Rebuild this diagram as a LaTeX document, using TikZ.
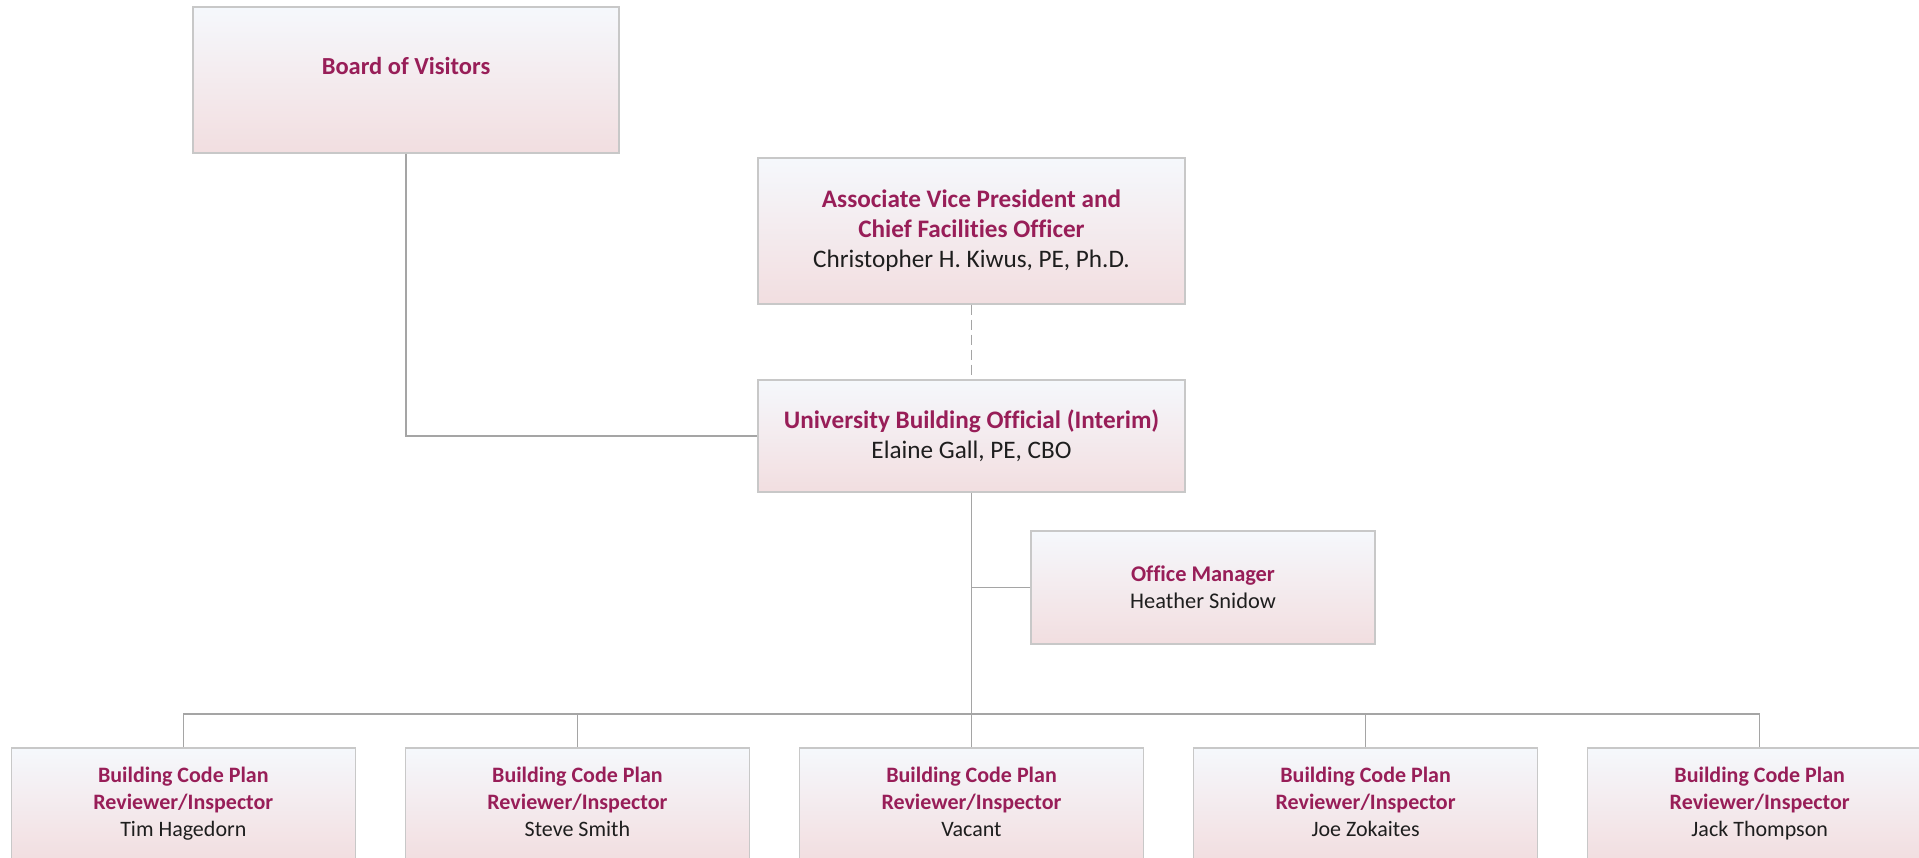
\documentclass[tikz,border=0pt]{standalone}
\usepackage{fontspec}
\setmainfont{Carlito}[Ligatures=NoCommon]
\usetikzlibrary{positioning}

\definecolor{titlec}{RGB}{152,30,88}
\definecolor{namec}{RGB}{30,30,30}
\definecolor{boxline}{RGB}{200,200,200}
\definecolor{linec}{RGB}{165,165,165}
\definecolor{topc}{RGB}{245,248,252}
\definecolor{botc}{RGB}{242,222,224}

\newcommand{\ttl}[1]{{\bfseries\color{titlec}#1}}
\newcommand{\insp}[1]{\ttl{Building Code Plan}\\\ttl{Reviewer/Inspector}\\#1\vphantom{gp}}

\tikzstyle{block} = [draw=boxline, line width=1.3pt, rectangle,
    top color=topc, bottom color=botc, align=center, inner sep=0pt,
    text=namec]
\tikzstyle{bigblock} = [block, minimum width=427pt, font=\fontsize{25.2}{30}\selectfont]
\tikzstyle{smallblock} = [block, minimum width=344pt, minimum height=112pt,
    font=\fontsize{22}{27}\selectfont]
\tikzstyle{link} = [draw=linec, line width=1.5pt]

\begin{document}
\begin{tikzpicture}[x=1pt, y=-1pt, node distance=48.8pt]
  \useasboundingbox (0,0) rectangle (1919,858);

  % top of the chart
  \node [block, minimum width=426pt, minimum height=146pt,
    font=\fontsize{24.5}{21}\selectfont] (board) at (406,80)
    {\ttl{Board of Visitors}\\ \strut};
  \node [bigblock, minimum height=146pt] (avp) at (971.5,231)
    {\ttl{Associate Vice President and}\\\ttl{Chief Facilities Officer}\\Christopher H. Kiwus, PE, Ph.D.};
  \node [bigblock, minimum height=112pt] (ubo) at (971.5,436)
    {\ttl{University Building Official (Interim)}\\Elaine Gall, PE, CBO};
  \node [smallblock, minimum height=113pt, font=\fontsize{22.4}{27}\selectfont] (om) at (1203,587.5)
    {\ttl{Office Manager}\\Heather Snidow};

  % inspectors
  \node [smallblock] (insp3) at (971.5,804) {\insp{Vacant}};
  \node [smallblock, left=of insp3] (insp2) {\insp{Steve Smith}};
  \node [smallblock, left=of insp2] (insp1) {\insp{Tim Hagedorn}};
  \node [smallblock, right=of insp3] (insp4) {\insp{Joe Zokaites}};
  \node [smallblock, right=of insp4] (insp5) {\insp{Jack Thompson}};

  \coordinate (bus) at (971.5,714);

  % connectors
  \draw [link] (board.south) |- (ubo.west);
  \draw [link, dash pattern=on 10pt off 5pt] (avp.south) -- (ubo.north);
  \draw [link] (ubo.south) -- (bus);
  \draw [link] (om.west) -- (om.west -| bus);
  \foreach \i in {1,...,5}
    \draw [link] (bus) -| (insp\i.north);

\end{tikzpicture}
\end{document}
